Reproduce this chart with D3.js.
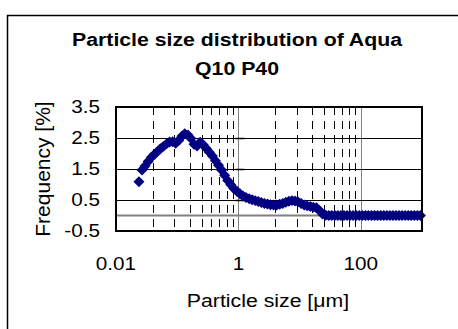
<!DOCTYPE html>
<html>
<head>
<meta charset="utf-8">
<script src="https://cdn.jsdelivr.net/npm/d3@7"></script>
<style>
  body { margin: 0; background: #fff; }
  text { font-family: "Liberation Sans", Arial, sans-serif; fill: #000; }
</style>
</head>
<body>
<div id="chart"></div>
<script>
// ─── Data ────────────────────────────────────────────────────
const sizes = [
  0.0237, 0.0266, 0.0299, 0.0335, 0.0376, 0.0422, 0.0473, 0.0531, 0.0596, 0.0668,
  0.0750, 0.0841, 0.0944, 0.106, 0.119, 0.133, 0.150, 0.168, 0.188, 0.211,
  0.237, 0.266, 0.299, 0.335, 0.376, 0.422, 0.473, 0.531, 0.596, 0.668,
  0.750, 0.841, 0.944, 1.06, 1.19, 1.33, 1.50, 1.68, 1.88, 2.11,
  2.37, 2.66, 2.99, 3.35, 3.76, 4.22, 4.73, 5.31, 5.96, 6.68,
  7.50, 8.41, 9.44, 10.6, 11.9, 13.3, 15.0, 16.8, 18.8, 21.1,
  23.7, 26.6, 29.9, 33.5, 37.6, 42.2, 47.3, 53.1, 59.6, 66.8,
  75.0, 84.1, 94.4, 106, 119, 133, 150, 168, 188, 211,
  237, 266, 299, 335, 376, 422, 473, 531, 596, 668,
  750, 841, 944
];
const frequency = [
  1.09, 1.47, 1.60, 1.74, 1.87, 1.97, 2.06, 2.15, 2.23, 2.31,
  2.37, 2.38, 2.33, 2.42, 2.56, 2.64, 2.60, 2.48, 2.30, 2.24,
  2.36, 2.28, 2.16, 2.04, 1.92, 1.77, 1.62, 1.47, 1.30, 1.13,
  0.99, 0.87, 0.78, 0.70, 0.63, 0.58, 0.54, 0.51, 0.48, 0.45,
  0.42, 0.39, 0.37, 0.35, 0.34, 0.34, 0.36, 0.39, 0.43, 0.46,
  0.48, 0.47, 0.44, 0.39, 0.34, 0.31, 0.29, 0.27, 0.25, 0.16,
  0.05, 0.01, 0, 0, 0, 0, 0, 0, 0, 0,
  0, 0, 0, 0, 0, 0, 0, 0, 0, 0,
  0, 0, 0, 0, 0, 0, 0, 0, 0, 0,
  0, 0, 0
];
const xTicks = [0.01, 1, 100];
const xMajorGrid = [1, 100];
const yTicks = [-0.5, 0.5, 1.5, 2.5, 3.5];
const titleLines = ["Particle size distribution of Aqua", "Q10 P40"];

// ─── Dimensions ───────────────────────────────────────────────
const W = 458, H = 329;
const m = { top: 107, left: 116, right: 36, bottom: 98 };
const w = W - m.left - m.right;
const h = H - m.top - m.bottom;
const stretch = 1.15; // reference text is a bit wider than Arial

const svg = d3.select("#chart").append("svg")
  .attr("width", W).attr("height", H);

// outer chart frame (cropped on right / bottom)
svg.append("rect")
  .attr("x", 7.5).attr("y", 15.5)
  .attr("width", 470).attr("height", 340)
  .attr("fill", "#fff").attr("stroke", "#000").attr("stroke-width", 1.5);

// ─── Scales ───────────────────────────────────────────────────
const x = d3.scaleLog().domain([0.01, 1000]).range([0, w]);
const y = d3.scaleLinear().domain([-0.5, 3.5]).range([h, 0]);

const g = svg.append("g").attr("transform", `translate(${m.left},${m.top})`);

// ─── Gridlines ────────────────────────────────────────────────
// minor lines: Excel puts them at log10(k) of each 2-decade major step
const minor = [];
[0.01, 1].forEach(base => {
  d3.range(2, 10).forEach(k => minor.push(base * k * k));
});
g.append("g").selectAll("line").data(minor).join("line")
  .attr("x1", d => Math.round(x(d)) + 0.5).attr("x2", d => Math.round(x(d)) + 0.5)
  .attr("y1", 0).attr("y2", h)
  .attr("stroke", "#000").attr("stroke-width", 1)
  .attr("stroke-dasharray", "8,6");

g.append("g").selectAll("line").data(xMajorGrid).join("line")
  .attr("x1", d => Math.round(x(d)) + 0.5).attr("x2", d => Math.round(x(d)) + 0.5)
  .attr("y1", 0).attr("y2", h)
  .attr("stroke", "#808080").attr("stroke-width", 1);

g.append("g").selectAll("line").data(yTicks.slice(1, -1)).join("line")
  .attr("x1", 0).attr("x2", w)
  .attr("y1", d => Math.round(y(d)) + 0.5).attr("y2", d => Math.round(y(d)) + 0.5)
  .attr("stroke", "#000").attr("stroke-width", 1);

// zero line (category axis)
g.append("line")
  .attr("x1", 0).attr("x2", w)
  .attr("y1", y(0)).attr("y2", y(0))
  .attr("stroke", "#808080").attr("stroke-width", 2);

// small tick stubs on the value axis crossing at 1
g.append("g").selectAll("line").data(yTicks.slice(1, -1)).join("line")
  .attr("x1", x(1) - 3).attr("x2", x(1) + 6)
  .attr("y1", d => Math.round(y(d)) + 0.5).attr("y2", d => Math.round(y(d)) + 0.5)
  .attr("stroke", "#000").attr("stroke-width", 1.5);

// ─── Points ───────────────────────────────────────────────────
const pts = sizes.map((s, i) => ({ s, f: frequency[i] }));
const sym = d3.symbol(d3.symbolSquare, 60);
g.append("g").selectAll("path").data(pts).join("path")
  .attr("d", sym)
  .attr("transform", d => `translate(${x(d.s)},${y(d.f)}) rotate(45)`)
  .attr("fill", "#000080");

// plot border
g.append("rect")
  .attr("x", 0).attr("y", 0).attr("width", w).attr("height", h)
  .attr("fill", "none").attr("stroke", "#000").attr("stroke-width", 2);

// ─── Axis labels ──────────────────────────────────────────────
g.append("g").selectAll("text").data(yTicks).join("text")
  .attr("transform", d => `translate(-16,${y(d)}) scale(${stretch},1)`)
  .attr("dy", "0.36em")
  .attr("text-anchor", "end")
  .style("font-size", "18px")
  .text(d => d3.format(".1f")(d).replace("−", "-"));

g.append("g").selectAll("text").data(xTicks).join("text")
  .attr("transform", d => `translate(${x(d)},${h + 39}) scale(${stretch},1)`)
  .attr("text-anchor", "middle")
  .style("font-size", "18px")
  .text(d => d3.format("~g")(d));

svg.append("text")
  .attr("transform", `translate(268,307) scale(${stretch},1)`)
  .attr("text-anchor", "middle")
  .style("font-size", "18.5px")
  .text("Particle size [μm]");

svg.append("text")
  .attr("transform", `translate(50,${m.top + h / 2}) rotate(-90)`)
  .attr("text-anchor", "middle")
  .style("font-size", "21px")
  .text("Frequency [%]");

// ─── Title ────────────────────────────────────────────────────
svg.append("g").selectAll("text").data(titleLines).join("text")
  .attr("transform", (d, i) => `translate(237,${46 + i * 29}) scale(${stretch},1)`)
  .attr("text-anchor", "middle")
  .style("font-size", "18.5px").style("font-weight", "bold")
  .text(d => d);
</script>
</body>
</html>
